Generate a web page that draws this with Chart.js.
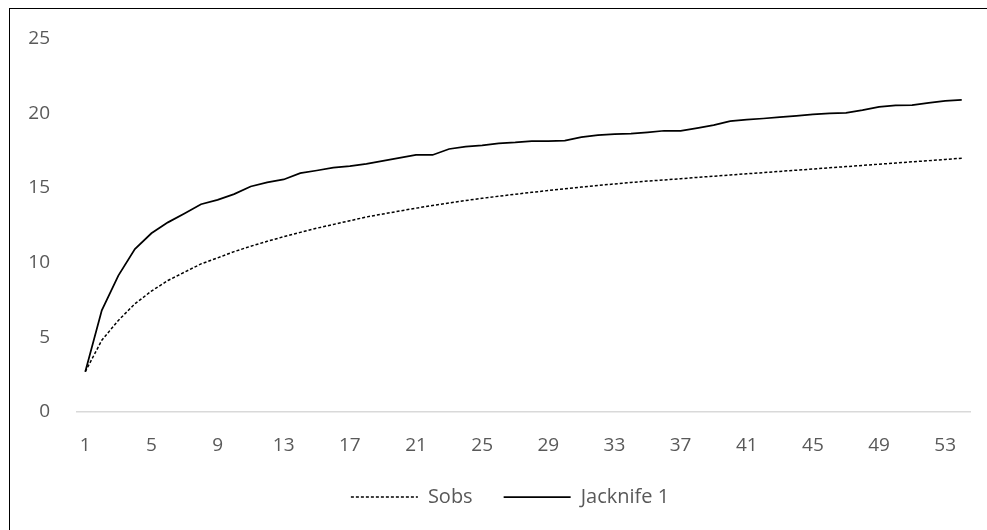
<!DOCTYPE html>
<html>
<head>
<meta charset="utf-8">
<script src="https://cdn.jsdelivr.net/npm/chart.js@4/dist/chart.umd.min.js"></script>
<style>
  html, body { margin: 0; padding: 0; background: #fff; }
  #wrap { position: relative; width: 987px; height: 530px; overflow: hidden; }
  #frame { position: absolute; left: 9px; top: 7.5px; width: 1200px; height: 800px; border: 1.5px solid #000; box-sizing: border-box; }
  canvas { position: absolute; left: 0; top: 0; }
</style>
</head>
<body>
<div id="wrap">
  <div id="frame"></div>
  <canvas id="chart" width="987" height="530"></canvas>
</div>
<script>
// ----------- Data -----------
const samples = [];
for (let i = 1; i <= 54; i++) samples.push(String(i));

const sobs = [
  2.7, 4.8, 6.13, 7.24, 8.09, 8.8, 9.36, 9.91, 10.31, 10.73,
  11.09, 11.42, 11.73, 12.02, 12.3, 12.55, 12.8, 13.05, 13.25, 13.45,
  13.64, 13.82, 13.99, 14.15, 14.3, 14.44, 14.57, 14.7, 14.82, 14.94,
  15.05, 15.16, 15.26, 15.36, 15.45, 15.53, 15.61, 15.7, 15.78, 15.86,
  15.94, 16.02, 16.1, 16.18, 16.26, 16.34, 16.42, 16.5, 16.58, 16.66,
  16.74, 16.82, 16.9, 16.98
];

const jacknife1 = [
  2.7, 6.8, 9.13, 10.9, 11.96, 12.69, 13.29, 13.9, 14.2, 14.58,
  15.09, 15.36, 15.56, 15.98, 16.16, 16.36, 16.45, 16.6, 16.8, 17.0,
  17.2, 17.2, 17.6, 17.76, 17.84, 17.98, 18.04, 18.13, 18.13, 18.16,
  18.4, 18.53, 18.6, 18.62, 18.71, 18.82, 18.82, 19.0, 19.2, 19.47,
  19.56, 19.64, 19.73, 19.82, 19.91, 19.98, 20.02, 20.2, 20.42, 20.51,
  20.53, 20.69, 20.82, 20.89
];

const seriesNames = ["Sobs", "Jacknife 1"];

// ----------- Chart -----------
const textColor = "#595959";
const font = { family: "'Open Sans', sans-serif", size: 19 };

// legend sits a bit right of the canvas centre in the original
const legendShift = {
  id: "legendShift",
  afterLayout(chart) { chart.legend.left += 50; }
};

new Chart(document.getElementById("chart").getContext("2d"), {
  type: "line",
  data: {
    labels: samples,
    datasets: [
      { label: seriesNames[0], data: sobs, borderColor: "#000", borderWidth: 1.5, borderDash: [3, 2],
        pointRadius: 0, tension: 0, fill: false },
      { label: seriesNames[1], data: jacknife1, borderColor: "#000", borderWidth: 1.75,
        pointRadius: 0, tension: 0, fill: false }
    ]
  },
  plugins: [legendShift],
  options: {
    responsive: false,
    animation: false,
    layout: { padding: { top: 37, right: 17, bottom: 13, left: 0 } },
    plugins: {
      tooltip: { enabled: false },
      legend: {
        position: "bottom",
        labels: {
          color: textColor,
          font: { family: font.family, size: 20 },
          usePointStyle: true,
          pointStyle: "line",
          pointStyleWidth: 67,
          padding: 31,
          // point style legend drops the dataset dash, so put it back
          generateLabels: chart => Chart.defaults.plugins.legend.labels.generateLabels(chart).map(item => {
            const ds = chart.data.datasets[item.datasetIndex];
            item.lineDash = ds.borderDash || [];
            item.lineWidth = ds.borderWidth;
            item.strokeStyle = ds.borderColor;
            return item;
          })
        }
      }
    },
    scales: {
      x: {
        offset: true,
        grid: { display: false, drawTicks: false },
        border: { display: true, color: "#d9d9d9", width: 1.5 },
        ticks: {
          color: textColor, font: font, autoSkip: false, maxRotation: 0, padding: 22,
          callback: (v, i) => (i % 4 === 0 ? samples[i] : "")
        },
        afterFit: s => { s.height = 44; }
      },
      y: {
        min: 0, max: 25,
        grid: { display: false, drawTicks: false },
        border: { display: false },
        ticks: { stepSize: 5, color: textColor, font: font, padding: 27 },
        afterFit: s => { s.width = 77; }
      }
    }
  }
});
</script>
</body>
</html>
